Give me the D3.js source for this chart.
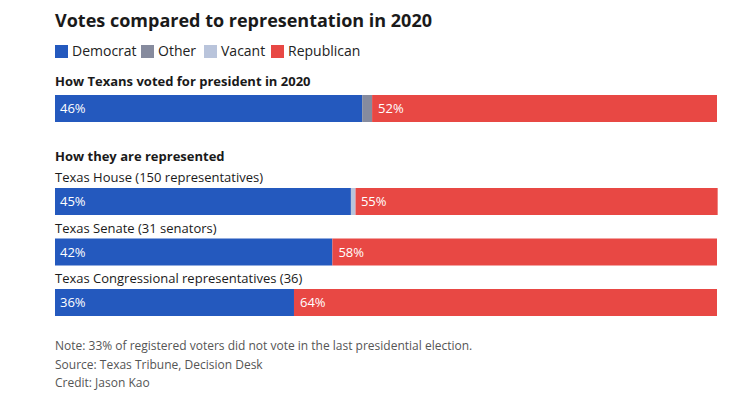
<!DOCTYPE html>
<meta charset="utf-8">
<title>Votes compared to representation in 2020</title>
<style>
  body { margin: 0; background: #fff; font-family: "Open Sans", "Noto Sans", sans-serif; }
  .title { font-size: 18px; font-weight: 700; fill: #1a1a1a; }
  .legend text { font-size: 14px; fill: #222; }
  .head { font-size: 13px; font-weight: 700; fill: #1a1a1a; }
  .rowlabel { font-size: 13px; fill: #1a1a1a; }
  .val { font-size: 13px; fill: #fff; }
  .note { font-size: 12px; fill: #555; }
</style>
<body>
<svg width="750" height="402" id="chart"></svg>
<script src="https://d3js.org/d3.v7.min.js"></script>
<script>
// data
var rows = ["President 2020", "Texas House (150 representatives)", "Texas Senate (31 senators)", "Texas Congressional representatives (36)"];
var parties = ["Democrat", "Other", "Vacant", "Republican"];
var dem = [46.4, 44.7, 41.9, 36.1];
var other = [1.5, 0, 0, 0];
var vacant = [0, 0.7, 0, 0];
var rep = [52.1, 54.7, 58.1, 63.9];
var notes = ["Note: 33% of registered voters did not vote in the last presidential election.",
             "Source: Texas Tribune, Decision Desk",
             "Credit: Jason Kao"];

var colors = d3.scaleOrdinal().domain(parties).range(["#2459be", "#868b9e", "#b9c4db", "#e84844"]);

var svg = d3.select("#chart");
var x = d3.scaleLinear().domain([0, 100]).range([55, 717]);
var barH = 27;
// rows 1..3 evenly spaced, row 0 sits in its own panel above
var yRep = d3.scaleLinear().domain([1, 3]).range([188, 289]);
function yTop(i) { return i === 0 ? 95 : yRep(i); }

svg.append("text").attr("class", "title").attr("x", 55).attr("y", 27)
  .text("Votes compared to representation in 2020");

// legend
var legX = [55, 141, 204, 271];
var leg = svg.append("g").attr("class", "legend");
parties.forEach(function(p, i) {
  leg.append("rect").attr("x", legX[i]).attr("y", 45).attr("width", 13).attr("height", 13)
    .attr("fill", colors(p));
  leg.append("text").attr("x", legX[i] + 17).attr("y", 56).text(p);
});

svg.append("text").attr("class", "head").attr("x", 55).attr("y", 86)
  .text("How Texans voted for president in 2020");
svg.append("text").attr("class", "head").attr("x", 55).attr("y", 161)
  .text("How they are represented");

var table = rows.map(function(r, i) {
  return { row: r, i: i, Democrat: dem[i], Other: other[i], Vacant: vacant[i], Republican: rep[i] };
});
var stacked = d3.stack().keys(parties)(table);

svg.append("g").selectAll("g")
  .data(stacked).join("g")
    .attr("fill", function(d) { return colors(d.key); })
  .selectAll("rect")
  .data(function(d) { return d; }).join("rect")
    .attr("x", function(d) { return x(d[0]); })
    .attr("y", function(d) { return yTop(d.data.i); })
    .attr("width", function(d) { return x(d[1]) - x(d[0]); })
    .attr("height", barH);

// row labels (skip the presidential bar)
svg.selectAll(".rowlabel")
  .data(table.slice(1)).join("text")
    .attr("class", "rowlabel")
    .attr("x", 55)
    .attr("y", function(d) { return yTop(d.i) - 6; })
    .text(function(d) { return d.row; });

var fmt = function(v) { return Math.round(v) + "%"; };
svg.selectAll(".val.dem")
  .data(table).join("text")
    .attr("class", "val dem")
    .attr("x", x(0) + 5)
    .attr("y", function(d) { return yTop(d.i) + barH / 2 + 4.5; })
    .text(function(d) { return fmt(d.Democrat); });
svg.selectAll(".val.rep")
  .data(table).join("text")
    .attr("class", "val rep")
    .attr("x", function(d) { return x(100 - d.Republican) + 6; })
    .attr("y", function(d) { return yTop(d.i) + barH / 2 + 4.5; })
    .text(function(d) { return fmt(d.Republican); });

svg.selectAll(".note")
  .data(notes).join("text")
    .attr("class", "note")
    .attr("x", 55)
    .attr("y", function(d, i) { return 350 + i * 18.5; })
    .text(function(d) { return d; });
</script>
</body>
